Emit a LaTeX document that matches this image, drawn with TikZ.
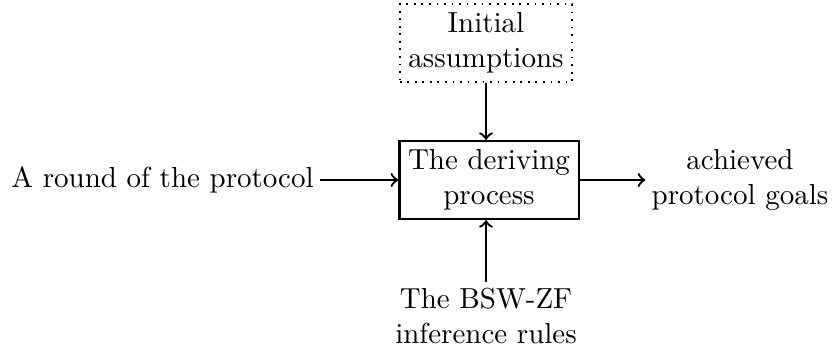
\documentclass[tikz,border=0pt]{standalone}
\begin{document}
\begin{tikzpicture}[x=0.345pt,y=-0.345pt,
  box/.style={draw,line width=0.8pt,align=center,inner sep=3pt},
  dotbox/.style={draw,dotted,line width=0.6pt,align=center,inner sep=3pt},
  label/.style={align=center,inner sep=2pt},
  flow/.style={->,line width=0.8pt}]
  \useasboundingbox (0,0) rectangle (836,349);
  \node[dotbox] (init) at (486,43) {Initial\\assumptions};
  \node[box] (proc) at (489,180) {The deriving\\process};
  \node[label,anchor=east] (round) at (320,180) {A round of the protocol};
  \node[label] (goals) at (740,180) {achieved\\protocol goals};
  \node[label] (rules) at (486,316) {The BSW-ZF\\inference rules};
  \draw[flow] (init) -- (init|-proc.north);
  \draw[flow] (round) -- (proc);
  \draw[flow] (proc) -- (goals);
  \draw[flow] (rules) -- (rules|-proc.south);
\end{tikzpicture}
\end{document}
